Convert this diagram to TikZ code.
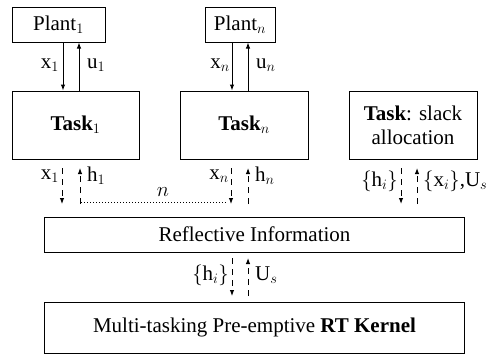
\documentclass[tikz,border=0pt]{standalone}
\usepackage{fontspec}
\setmainfont{Liberation Serif}
\usetikzlibrary{arrows.meta}
\begin{document}
\begin{tikzpicture}[x=1pt,y=-1pt,
  box/.style={draw,line width=1pt,inner sep=0pt,align=center,font=\fontsize{21}{24}\selectfont},
  lab/.style={font=\fontsize{21}{24}\selectfont,inner sep=1pt},
  sarr/.style={line width=1pt,-{Latex[length=6pt,width=4.5pt]}},
  darr/.style={line width=1pt,dash pattern=on 6pt off 5pt,-{Latex[length=6pt,width=4.5pt]}}]
\useasboundingbox (0,0) rectangle (494,356);
% boxes
\node[box,minimum width=93pt,minimum height=35pt] (P1) at (58.5,24.5) {Plant$_1$};
\node[box,minimum width=70pt,minimum height=35pt] (Pn) at (240,24.5) {Plant$_n$};
\node[box,minimum width=127pt,minimum height=68pt] (T1) at (75.5,125) {\textbf{Task}$_1$};
\node[box,minimum width=128pt,minimum height=68pt] (Tn) at (244,125) {\textbf{Task}$_n$};
\node[box,minimum width=128pt,minimum height=68pt] (Ts) at (413,125) {\textbf{Task}: slack\\allocation};
\node[box,minimum width=420pt,minimum height=35pt] (R) at (254.5,234.5) {Reflective Information};
\node[box,minimum width=420pt,minimum height=51pt] (K) at (254.5,327.5) {Multi-tasking Pre-emptive \textbf{RT Kernel}};
% x positions
\coordinate (a1) at (63,0);
\coordinate (b1) at (79,0);
\coordinate (an) at (232,0);
\coordinate (bn) at (248,0);
% solid arrows
\draw[sarr] (P1.south -| a1) -- (T1.north -| a1);
\draw[sarr] (T1.north -| b1) -- (P1.south -| b1);
\draw[sarr] (Pn.south -| an) -- (Tn.north -| an);
\draw[sarr] (Tn.north -| bn) -- (Pn.south -| bn);
\node[lab,anchor=east] (lx1) at (60,65) {x$_1$};
\node[lab,anchor=west] (lu1) at (86,65) {u$_1$};
\node[lab,anchor=east] (lxn) at (231,65) {x$_n$};
\node[lab,anchor=west] (lun) at (255,65) {u$_n$};
% dashed arrows under tasks
\coordinate (d1t) at (62,168); \coordinate (d1b) at (62,204);
\coordinate (e1t) at (80,168); \coordinate (e1b) at (80,204);
\coordinate (dnt) at (231,168); \coordinate (dnb) at (231,204);
\coordinate (ent) at (248,168); \coordinate (enb) at (248,204);
\coordinate (dst) at (401,168); \coordinate (dsb) at (401,204);
\coordinate (est) at (417,168); \coordinate (esb) at (417,204);
\draw[darr] (d1t) -- (d1b);
\draw[darr] (e1b) -- (e1t);
\draw[darr] (dnt) -- (dnb);
\draw[darr] (enb) -- (ent);
\draw[darr] (dst) -- (dsb);
\draw[darr] (esb) -- (est);
\node[lab,anchor=east] (lx1b) at (60,176) {x$_1$};
\node[lab,anchor=west] (lh1) at (86,176) {h$_1$};
\node[lab,anchor=east] (lxnb) at (230,176) {x$_n$};
\node[lab,anchor=west] (lhn) at (254,176) {h$_n$};
\node[lab,anchor=east] (lhs) at (399,181) {$\{$h$_i\}$};
\node[lab,anchor=west] (lxs) at (422,181) {$\{$x$_i\}$,U$_s$};
% dotted line
\coordinate (o1) at (81,202); \coordinate (o2) at (227,202);
\draw[line width=1pt,dotted] (o1) -- (o2);
\node[lab] (ln) at (163,192) {$n$};
% lower dashed arrows
\coordinate (dkt) at (232,258); \coordinate (dkb) at (232,296);
\coordinate (ekt) at (248,258); \coordinate (ekb) at (248,296);
\draw[darr] (dkt) -- (dkb);
\draw[darr] (ekb) -- (ekt);
\node[lab,anchor=east] (lhk) at (230,275) {$\{$h$_i\}$};
\node[lab,anchor=west] (luk) at (254,275) {U$_s$};
\end{tikzpicture}
\end{document}
